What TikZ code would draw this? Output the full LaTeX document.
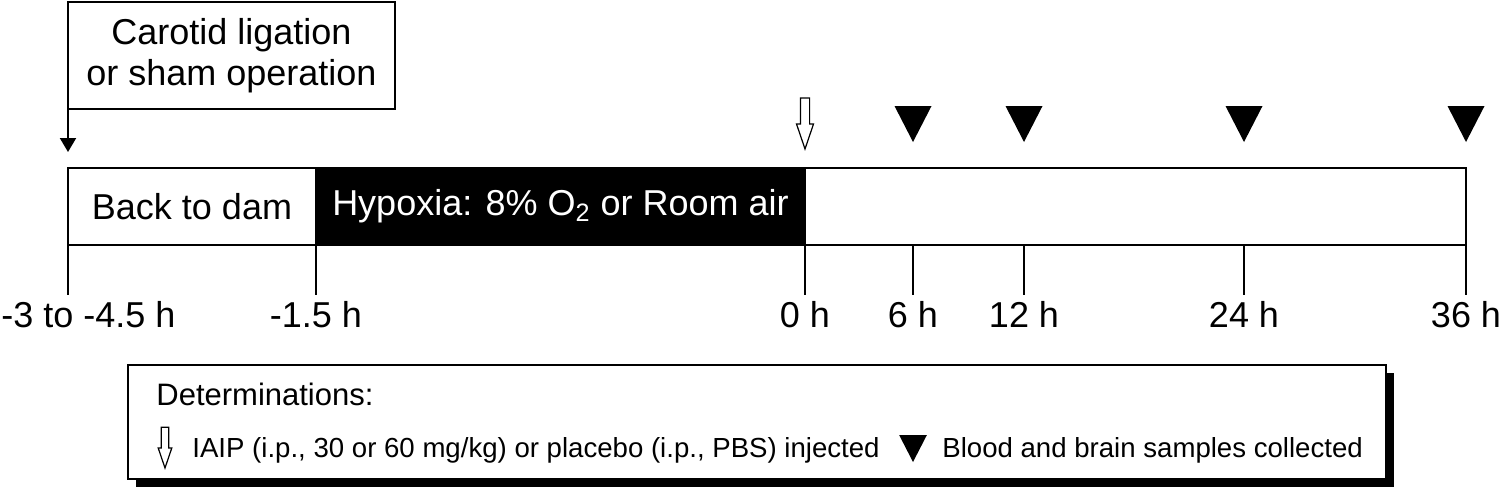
\documentclass[tikz,border=0pt]{standalone}
\usepackage{fontspec}
\setmainfont{Liberation Sans}
\usetikzlibrary{arrows.meta, positioning, shadows}

\newcommand{\bigtext}{\fontsize{18}{20.5}\selectfont}
\newcommand{\keytitle}{\fontsize{15.5}{17}\selectfont}
\newcommand{\keytext}{\fontsize{13.8}{16}\selectfont}

\tikzset{
  surgbox/.style={
    draw, line width=1pt,
    minimum width=163.5pt, minimum height=53.5pt,
    inner sep=0pt, outer sep=0pt,
    align=center, font=\bigtext
  },
  phase/.style={
    draw, line width=1pt,
    minimum height=38.5pt,
    inner sep=0pt, outer sep=0pt,
    font=\bigtext
  },
  timelbl/.style={font=\bigtext, inner sep=0pt, anchor=base},
  tickline/.style={line width=1pt},
  downarrow/.style={line width=1pt, -{Triangle[length=7pt,width=8pt]}},
  keybox/.style={
    draw, line width=1pt, fill=white,
    minimum width=629pt, minimum height=57pt,
    inner sep=0pt, outer sep=0pt,
    drop shadow={shadow xshift=4pt, shadow yshift=-4pt, opacity=1, fill=black}
  },
  keylbl/.style={inner sep=0pt, anchor=base west},
  injarrow/.pic={
    \draw[line width=0.6pt, fill=white]
      (-4.6,-51) -- (4.6,-51) -- (4.6,-25) -- (8.5,-25) -- (0,0)
      -- (-8.5,-25) -- (-4.6,-25) -- cycle;
  },
  samplemark/.pic={
    \fill (-18.5,-18) -- (18.5,-18) -- (0,18) -- cycle;
  },
}

\begin{document}
\begin{tikzpicture}[x=0.5pt, y=-0.5pt]
\useasboundingbox (0,0) rectangle (1502,488);

%% ─── SURGERY ────────────────────────────────────────────────
\node[surgbox, anchor=north west] (surgery) at (68,2)
  {Carotid ligation\\or sham operation};
\coordinate (surgtip) at (68,152);
\draw[downarrow] (surgery.south west) -- (surgtip);

%% ─── TIMELINE BAR ───────────────────────────────────────────
\node[phase, minimum width=124pt, anchor=north west] (dam) at (68,168)
  {Back to dam};
\node[phase, minimum width=244.5pt, fill=black, text=white,
      right=0pt of dam] (hypoxia)
  {Hypoxia: 8\% O\textsubscript{2} or Room air};
\node[phase, minimum width=330.5pt, right=0pt of hypoxia] (post) {};

%% Ticks + time labels
\node[timelbl, anchor=base west] (lblstart) at (1,327) {-3 to -4.5 h};
\draw[tickline, shorten >=3pt] (dam.south west) -- (dam.south west |- lblstart.north);

\foreach \x/\t [count=\i] in {316/-1.5 h, 805/0 h, 913/6 h, 1024/12 h, 1244/24 h, 1466/36 h}{
  \coordinate (tick\i) at (\x,245);
  \node[timelbl] (lbl\i) at (\x,327) {\t};
  \draw[tickline, shorten >=3pt] (tick\i) -- (tick\i |- lbl\i.north);
}

%% Injection + sampling marks
\pic at (805,149) {injarrow};
\foreach \x in {913,1024,1244,1466}
  \pic at (\x,124) {samplemark};

%% ─── LEGEND ─────────────────────────────────────────────────
\node[keybox, anchor=north west] (key) at (128,365) {};
\node[keylbl, font=\keytitle] (keyhead) at (156,405) {Determinations:};

\pic[scale=0.8] at (165,468) {injarrow};
\node[keylbl, font=\keytext] (keyinj) at (192,457)
  {IAIP (i.p., 30 or 60 mg/kg) or placebo (i.p., PBS) injected};

\pic[scale=0.75] at (913,448.5) {samplemark};
\node[keylbl, font=\keytext] (keysample) at (942,457)
  {Blood and brain samples collected};

\end{tikzpicture}
\end{document}
